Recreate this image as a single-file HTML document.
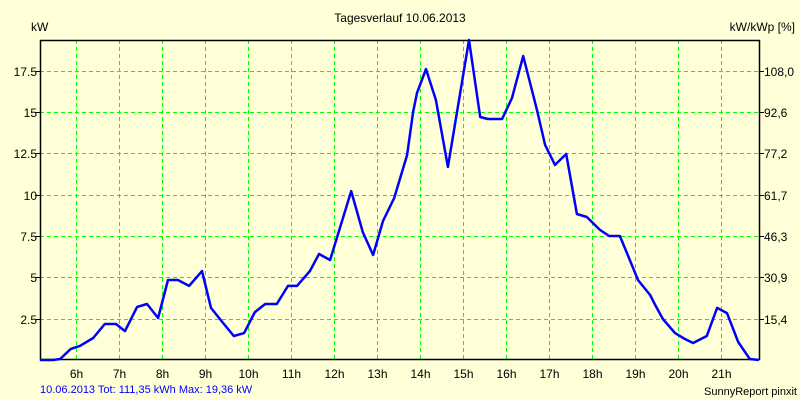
<!DOCTYPE html>
<html><head><meta charset="utf-8"><style>
body{margin:0;background:#ffffd8;}
svg{display:block;font-family:"Liberation Sans",sans-serif;}
</style></head><body>
<svg id="c" width="800" height="400">
<rect width="800" height="400" fill="#ffffd8"/>
<text x="400" y="22" text-anchor="middle" font-size="12">Tagesverlauf 10.06.2013</text>
<text x="31" y="31" font-size="12">kW</text>
<text x="795" y="31" text-anchor="end" font-size="12">kW/kWp [%]</text>
<text x="40" y="393" font-size="11" fill="#0000ff">10.06.2013 Tot: 111,35 kWh Max: 19,36 kW</text>
<text x="797" y="395" text-anchor="end" font-size="11">SunnyReport pinxit</text>
<g id="grid"></g><g id="axes"></g><g id="series"></g>
</svg>
<script>
const hourTicks=[6,7,8,9,10,11,12,13,14,15,16,17,18,19,20,21];
const kwTicks=[2.5,5,7.5,10,12.5,15,17.5];
const kwLabels=["2.5","5","7.5","10","12.5","15","17.5"];
const pctLabels=["15,4","30,9","46,3","61,7","77,2","92,6","108,0"];
const times=[5.16,5.47,5.63,5.88,6.09,6.40,6.67,6.93,7.14,7.42,7.65,7.91,8.14,8.37,8.63,8.93,9.14,9.42,9.67,9.91,10.16,10.40,10.67,10.93,11.14,11.44,11.65,11.91,12.40,12.67,12.91,13.14,13.40,13.70,13.84,13.93,14.14,14.37,14.65,15.14,15.40,15.58,15.91,16.14,16.40,16.72,16.91,17.14,17.40,17.65,17.88,18.19,18.40,18.65,18.88,19.07,19.35,19.47,19.65,19.93,20.16,20.35,20.67,20.91,21.14,21.40,21.67,21.88];
const power=[0,0,0.06,0.67,0.85,1.33,2.18,2.18,1.75,3.21,3.39,2.54,4.84,4.84,4.48,5.38,3.15,2.24,1.45,1.63,2.90,3.39,3.39,4.48,4.48,5.38,6.41,6.05,10.22,7.74,6.35,8.41,9.80,12.40,15.00,16.15,17.60,15.73,11.68,19.36,14.70,14.58,14.58,15.85,18.39,15.12,13.01,11.80,12.46,8.83,8.65,7.86,7.50,7.50,6.05,4.84,3.93,3.33,2.48,1.63,1.27,1.03,1.45,3.15,2.84,1.09,0.06,0];
const L=40,R=759,T=40,B=360;
const xs=h=>76+(h-6)*43;
const ys=v=>B-v*16.53;
const NS="http://www.w3.org/2000/svg";
function mk(tag,parent,attrs){const e=document.createElementNS(NS,tag);for(const k in attrs)e.setAttribute(k,attrs[k]);parent.appendChild(e);return e;}
const grid=document.getElementById('grid'),axes=document.getElementById('axes'),series=document.getElementById('series');
mk('rect',grid,{x:L,y:T,width:R-L,height:B-T,fill:'#ffffd8'});
hourTicks.forEach(h=>{
  const x=Math.round(xs(h))+0.5;
  const l=mk('line',grid,{x1:x,y1:T,x2:x,y2:B,stroke:'#00ff00','stroke-dasharray':'4 3'});
  
  
  const t=mk('text',axes,{x:x,y:378,'text-anchor':'middle','font-size':12});
  t.textContent=h+'h';
  
  
});
kwTicks.forEach((v,i)=>{
  const y=Math.round(ys(v))+0.5;
  const l=mk('line',grid,{x1:L,y1:y,x2:R,y2:y,stroke:'#00ff00','stroke-dasharray':'4 3'});
  
  
  mk('line',axes,{x1:L-5,y1:y,x2:L,y2:y,stroke:'#000'});
  mk('line',axes,{x1:R,y1:y,x2:R+5,y2:y,stroke:'#000'});
  const t=mk('text',axes,{x:L-3,y:y+4.5,'text-anchor':'end','font-size':12});
  t.textContent=kwLabels[i];
  
  
  const t2=mk('text',axes,{x:R+5,y:y+4.5,'font-size':12});
  t2.textContent=pctLabels[i];
  
  
});
const frame=mk('rect',axes,{x:L+0.5,y:T+0.5,width:R-L,height:B-T-1,fill:'none',stroke:'#000','stroke-width':1.5});


const pts=times.map((t,i)=>xs(t).toFixed(1)+','+ys(power[i]).toFixed(1)).join(' ');
const pl=mk('polyline',series,{points:pts,fill:'none',stroke:'#0000ff','stroke-width':2.5,'stroke-linejoin':'round'});


</script>
</body></html>
